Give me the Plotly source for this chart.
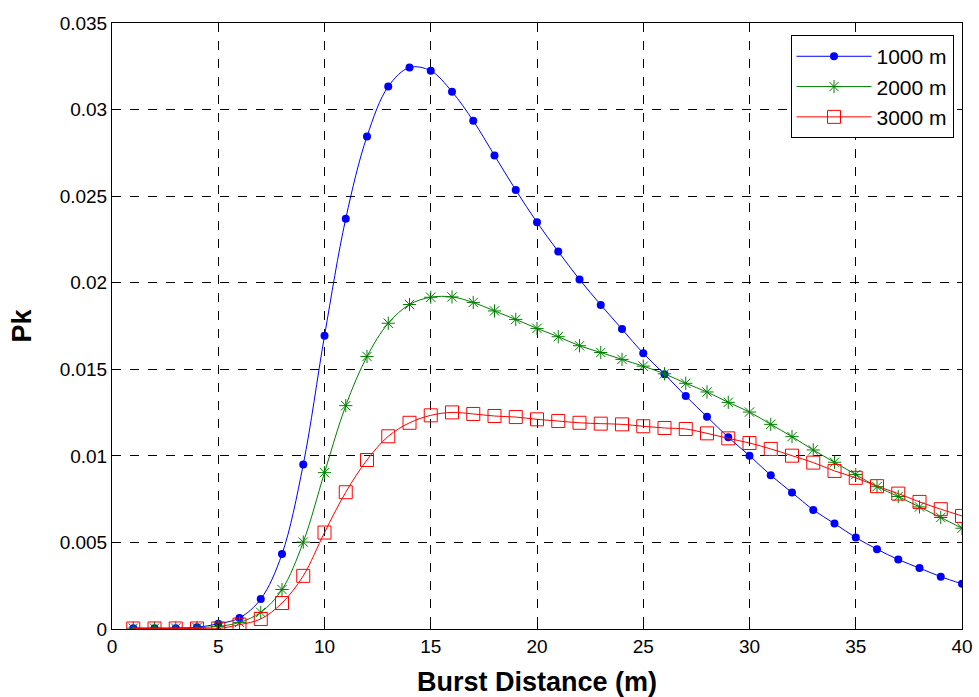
import plotly.graph_objects as go

x = list(range(1, 41))

pk_1000 = [0.00005, 0.00005, 0.00005, 0.0001, 0.0003, 0.00064, 0.00173, 0.00433, 0.0095, 0.01693,
           0.0237, 0.02845, 0.03133, 0.03243, 0.03224, 0.03103, 0.02935, 0.02735, 0.02535, 0.02349,
           0.0218, 0.02019, 0.01872, 0.01732, 0.01592, 0.01472, 0.01345, 0.01226, 0.01107, 0.01001,
           0.00888, 0.00788, 0.00688, 0.00609, 0.00528, 0.00461, 0.00401, 0.00352, 0.00302, 0.00261]

pk_2000 = [0.00005, 0.00005, 0.00005, 0.00008, 0.00015, 0.00038, 0.00096, 0.00228, 0.00502, 0.00903,
           0.0129, 0.01574, 0.01766, 0.01874, 0.01916, 0.01918, 0.01886, 0.01837, 0.01788, 0.01736,
           0.01688, 0.01636, 0.01597, 0.01557, 0.01518, 0.01474, 0.01419, 0.01369, 0.01309, 0.01253,
           0.01182, 0.01111, 0.01034, 0.00963, 0.00892, 0.00822, 0.00765, 0.00705, 0.00644, 0.00582]

pk_3000 = [0.00003, 0.00003, 0.00003, 0.00003, 0.00003, 0.00025, 0.00058, 0.0015, 0.00307, 0.00557,
           0.0079, 0.00976, 0.01113, 0.01191, 0.01234, 0.01251, 0.01242, 0.0123, 0.01224, 0.01211,
           0.01201, 0.01191, 0.01186, 0.01182, 0.01171, 0.01161, 0.01155, 0.0113, 0.01101, 0.01074,
           0.0104, 0.01001, 0.00961, 0.00913, 0.00873, 0.00825, 0.00782, 0.00734, 0.00692, 0.00653]

x_ticks = [0, 5, 10, 15, 20, 25, 30, 35, 40]
y_ticks = [0, 0.005, 0.01, 0.015, 0.02, 0.025, 0.03, 0.035]
y_tick_text = ["0", "0.005", "0.01", "0.015", "0.02", "0.025", "0.03", "0.035"]

FONT = "Liberation Sans, Arial, sans-serif"

fig = go.Figure()
fig.add_trace(go.Scatter(
    x=x, y=pk_1000, name="1000 m", mode="lines+markers",
    line=dict(color="#0000FF", width=1, shape="spline"),
    marker=dict(symbol="circle", size=8, color="#0000FF"),
))
fig.add_trace(go.Scatter(
    x=x, y=pk_2000, name="2000 m", mode="lines+markers",
    line=dict(color="#008000", width=1, shape="spline"),
    marker=dict(symbol="asterisk-open", size=11, color="#008000",
                line=dict(color="#008000", width=1)),
))
fig.add_trace(go.Scatter(
    x=x, y=pk_3000, name="3000 m", mode="lines+markers",
    line=dict(color="#FF0000", width=1, shape="spline"),
    marker=dict(symbol="square-open", size=13, color="#FF0000",
                line=dict(color="#FF0000", width=1)),
))

fig.update_layout(
    width=979, height=697,
    margin=dict(l=112, r=17, t=23, b=68),
    paper_bgcolor="white", plot_bgcolor="white",
    font=dict(family=FONT, size=19, color="black"),
    legend=dict(
        x=0.99, y=0.98, xanchor="right", yanchor="top",
        bordercolor="black", borderwidth=1, bgcolor="white",
        font=dict(family=FONT, size=21, color="black"),
        itemwidth=75, tracegroupgap=0,
    ),
    xaxis=dict(
        range=[0, 40], tickvals=x_ticks, ticktext=[str(t) for t in x_ticks],
        showgrid=True, gridcolor="black", griddash="dash", gridwidth=1,
        showline=True, linecolor="black", linewidth=1, mirror="ticks",
        ticks="inside", ticklen=5, tickcolor="black",
        zeroline=False, automargin=False,
        title=dict(text="<b>Burst Distance (m)</b>", font=dict(family=FONT, size=27), standoff=16),
    ),
    yaxis=dict(
        range=[0, 0.035], tickvals=y_ticks, ticktext=y_tick_text,
        showgrid=True, gridcolor="black", griddash="dash", gridwidth=1,
        showline=True, linecolor="black", linewidth=1, mirror="ticks",
        ticks="inside", ticklen=5, tickcolor="black",
        zeroline=False, automargin=False,
        title=dict(text="<b>Pk</b>", font=dict(family=FONT, size=27), standoff=20),
    ),
)

fig.write_html("out.html")
